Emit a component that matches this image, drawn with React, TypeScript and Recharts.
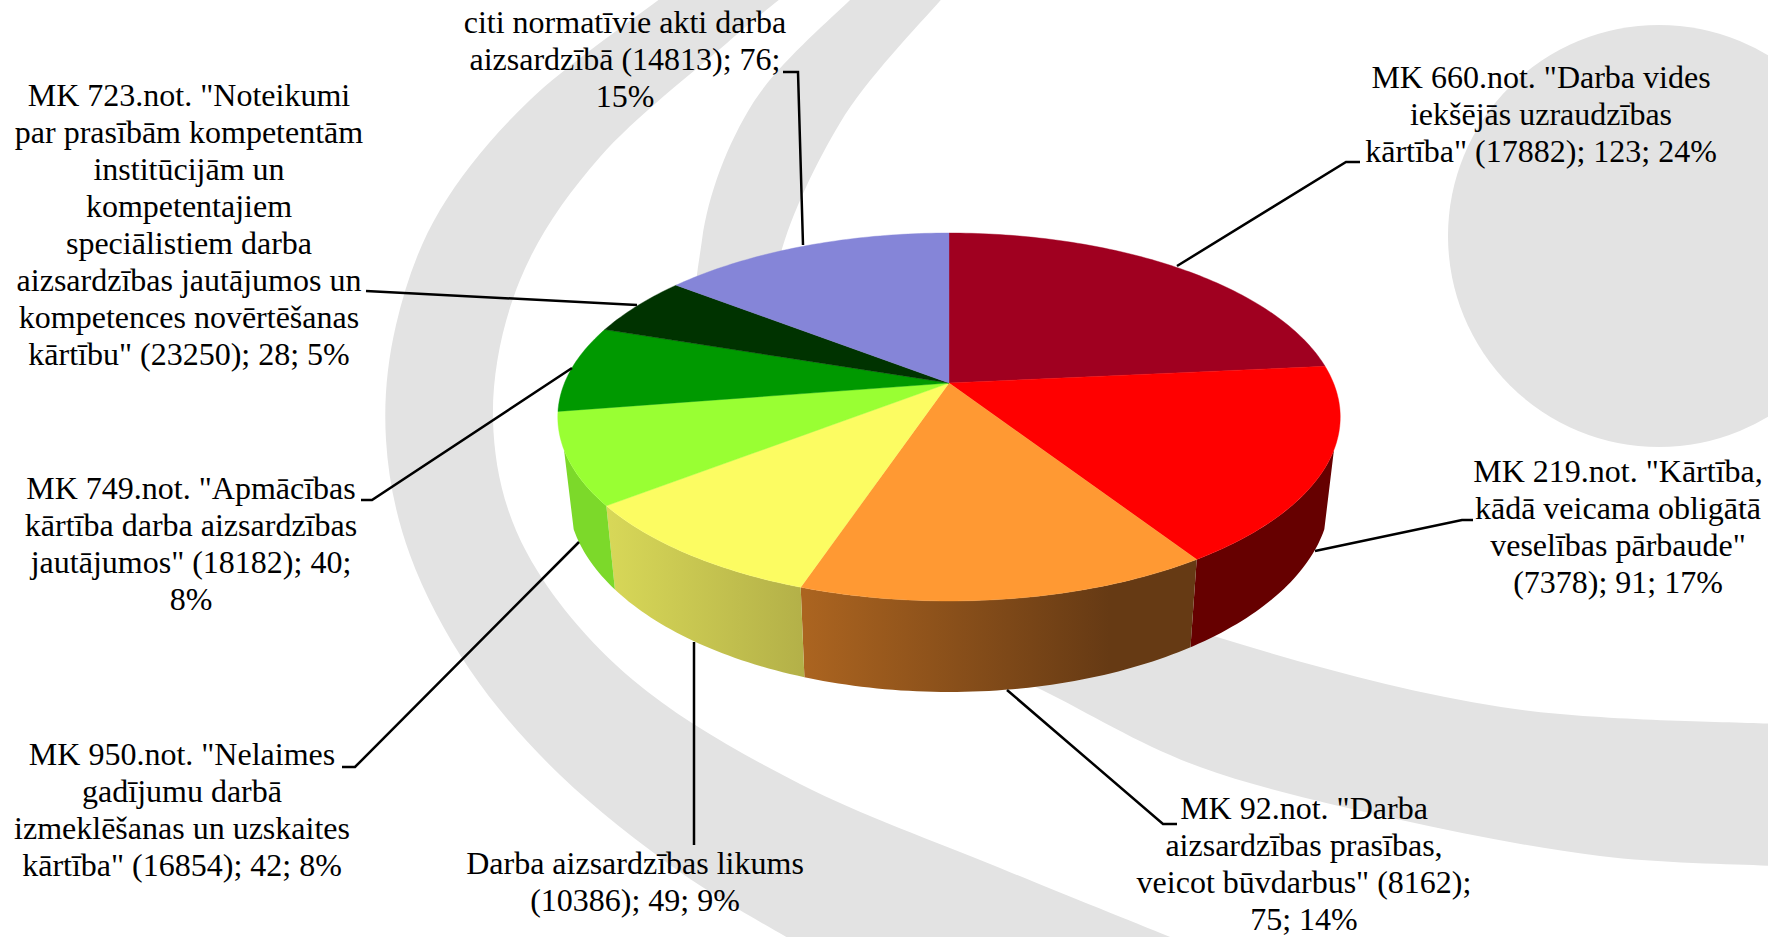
import React from 'react';
import { PieChart, Pie } from 'recharts';

const categories = [
  'MK 660.not.',
  'MK 219.not.',
  'MK 92.not.',
  'Darba aizsardzības likums',
  'MK 950.not.',
  'MK 749.not.',
  'MK 723.not.',
  'citi normatīvie akti',
];
const counts = [123, 91, 75, 49, 42, 40, 28, 76];
const topColours = ['#A00020', '#FF0000', '#FF9933', '#FCFC62', '#99FF33', '#009900', '#003300', '#8585D8'];
const wallFills = ['#660000', '#660000', 'url(#wallOrange)', 'url(#wallYellow)', '#7CD92A', '#006600', '#002000', '#555599'];

const labelLines = [
  ['MK 660.not. "Darba vides', 'iekšējās uzraudzības', 'kārtība" (17882); 123; 24%'],
  ['MK 219.not. "Kārtība,', 'kādā veicama obligātā', 'veselības pārbaude"', '(7378); 91; 17%'],
  ['MK 92.not. "Darba', 'aizsardzības prasības,', 'veicot būvdarbus" (8162);', '75; 14%'],
  ['Darba aizsardzības likums', '(10386); 49; 9%'],
  ['MK 950.not. "Nelaimes', 'gadījumu darbā', 'izmeklēšanas un uzskaites', 'kārtība" (16854); 42; 8%'],
  ['MK 749.not. "Apmācības', 'kārtība darba aizsardzības', 'jautājumos" (18182); 40;', '8%'],
  ['MK 723.not. "Noteikumi', 'par prasībām kompetentām', 'institūcijām un', 'kompetentajiem', 'speciālistiem darba', 'aizsardzības jautājumos un', 'kompetences novērtēšanas', 'kārtību" (23250); 28; 5%'],
  ['citi normatīvie akti darba', 'aizsardzībā (14813); 76;', '15%'],
];
const labelCentreX = [1541, 1618, 1304, 635, 182, 191, 189, 625];
const labelFirstBaseline = [88, 482, 819, 874, 765, 499, 106, 33];
const leaderPoints = [
  '1360,162 1346,162 1177,266',
  '1473,520 1462,520 1315,551',
  '1177,824 1163,824 1007,690',
  '694,845 694,642',
  '342,767 355,767 579,542',
  '361,500 372,500 572,368',
  '366,291 637,305',
  '783,72 798,72 803,245',
];

// Grey background swooshes.
const band1Outer = [[665, -5], [530, 100], [440, 210], [396, 325], [386, 440], [410, 555], [470, 670], [560, 775], [680, 872], [800, 945]];
const band1Inner = [[1190, 945], [1000, 868], [800, 784], [633, 680], [527, 553], [493, 420], [520, 280], [600, 157], [727, 43], [785, -5]];
const band2Outer = [[855, -5], [753, 103], [702, 240], [715, 380], [880, 610], [1040, 689], [1200, 767], [1401, 820], [1600, 856], [1775, 866]];
const band2Inner = [[1775, 724], [1501, 707], [1217, 637], [960, 540], [800, 400], [775, 280], [840, 123], [945, -5]];

const tableRows = categories.map((name, i) => ({ name, value: counts[i], fill: topColours[i] }));

const LINE_HEIGHT = 37;
const FONT = '"Liberation Serif", serif';
const K = 0.1848;
const S_RATIO = 0.4622;
const WALL_FROM = 110.6;
const WALL_TO = 249.4;

const smooth = (pts: number[][]) => {
  let d = '';
  for (let i = 0; i < pts.length - 1; i++) {
    const p0 = pts[Math.max(i - 1, 0)];
    const p1 = pts[i];
    const p2 = pts[i + 1];
    const p3 = pts[Math.min(i + 2, pts.length - 1)];
    d += `C${p1[0] + (p2[0] - p0[0]) / 6},${p1[1] + (p2[1] - p0[1]) / 6} ${p2[0] - (p3[0] - p1[0]) / 6},${p2[1] - (p3[1] - p1[1]) / 6} ${p2[0]},${p2[1]}`;
  }
  return d;
};
const bandPath = (a: number[][], b: number[][]) =>
  `M${a[0][0]},${a[0][1]}${smooth(a)}L${b[0][0]},${b[0][1]}${smooth(b)}Z`;

const rimPoint = (r: number, deg: number) => {
  const t = (deg * Math.PI) / 180;
  const u = Math.sin(t);
  const v = -Math.cos(t);
  const w = 1 - K * v;
  return { x: (r * u) / w, y: (r * S_RATIO * v) / w };
};
const topXY = (cx: number, cy: number, r: number, deg: number) => {
  const p = rimPoint(r, deg);
  return [cx + p.x, cy + p.y];
};
const bottomXY = (cx: number, cy: number, r: number, deg: number) => {
  const p = rimPoint(r, deg);
  return [cx + 0.975 * p.x, cy + 1.076 * p.y + 74.4];
};
const range = (a: number, b: number) => {
  const out: number[] = [];
  for (let d = a; d < b; d += 1) out.push(d);
  out.push(b);
  return out;
};

const TopSlice = (props: any) => {
  const { cx, cy, outerRadius, startAngle, endAngle, fill } = props;
  const pts = range(90 - startAngle, 90 - endAngle).map((d) => topXY(cx, cy, outerRadius, d).join(','));
  return <path d={`M${cx},${cy}L${pts.join('L')}Z`} fill={fill} stroke={fill} strokeWidth={0.4} />;
};

const WallSlice = (props: any) => {
  const { cx, cy, outerRadius, startAngle, endAngle, name, payload } = props;
  const i = categories.indexOf(name ?? payload?.name);
  const a = Math.max(90 - startAngle, WALL_FROM);
  const b = Math.min(90 - endAngle, WALL_TO);
  if (b <= a) return <g />;
  const degs = range(a, b);
  const upper = degs.map((d) => topXY(cx, cy, outerRadius, d).join(','));
  const lower = degs.slice().reverse().map((d) => bottomXY(cx, cy, outerRadius, d).join(','));
  const f = wallFills[i];
  return (
    <g>
      <defs>
        <linearGradient id="wallOrange" gradientUnits="userSpaceOnUse" x1={805} y1={0} x2={1110} y2={0}>
          <stop offset="0" stopColor="#AB6420" />
          <stop offset="1" stopColor="#663A14" />
        </linearGradient>
        <linearGradient id="wallYellow" gradientUnits="userSpaceOnUse" x1={606} y1={0} x2={805} y2={0}>
          <stop offset="0" stopColor="#D8D858" />
          <stop offset="1" stopColor="#B3B048" />
        </linearGradient>
      </defs>
      <path d={`M${upper.join('L')}L${lower.join('L')}Z`} fill={f} />
    </g>
  );
};

const renderLabel = (props: any) => {
  const i = props.index;
  return (
    <text key={i} x={labelCentreX[i]} y={labelFirstBaseline[i]} textAnchor="middle" fontFamily={FONT} fontSize={32} fill="#000">
      {labelLines[i].map((line, j) => (
        <tspan key={j} x={labelCentreX[i]} y={labelFirstBaseline[i] + j * LINE_HEIGHT}>{line}</tspan>
      ))}
    </text>
  );
};
const renderLeader = (props: any) => (
  <polyline key={props.index} points={leaderPoints[props.index]} fill="none" stroke="#000" strokeWidth={2.5} />
);

export default function App() {
  return (
    <div style={{ position: 'absolute', left: 0, top: 0, width: 1768, height: 937, overflow: 'hidden', background: '#fff' }}>
      <svg width={1768} height={937} style={{ position: 'absolute', left: 0, top: 0 }}>
        <circle cx={1659} cy={236} r={211} fill="#E3E3E3" />
        <path d={bandPath(band1Outer, band1Inner)} fill="#E3E3E3" />
        <path d={bandPath(band2Outer, band2Inner)} fill="#E3E3E3" />
      </svg>
      <div style={{ position: 'absolute', left: 0, top: 0 }}>
        <PieChart width={1768} height={937} margin={{ top: 0, right: 0, bottom: 0, left: 0 }}>
          <Pie data={tableRows} dataKey="value" nameKey="name" cx={949} cy={383} outerRadius={384.5} startAngle={90} endAngle={-270} stroke="none" isAnimationActive={false} shape={WallSlice} label={false} labelLine={false} />
          <Pie data={tableRows} dataKey="value" nameKey="name" cx={949} cy={383} outerRadius={384.5} startAngle={90} endAngle={-270} stroke="none" isAnimationActive={false} shape={TopSlice} label={renderLabel} labelLine={renderLeader} />
        </PieChart>
      </div>
    </div>
  );
}
